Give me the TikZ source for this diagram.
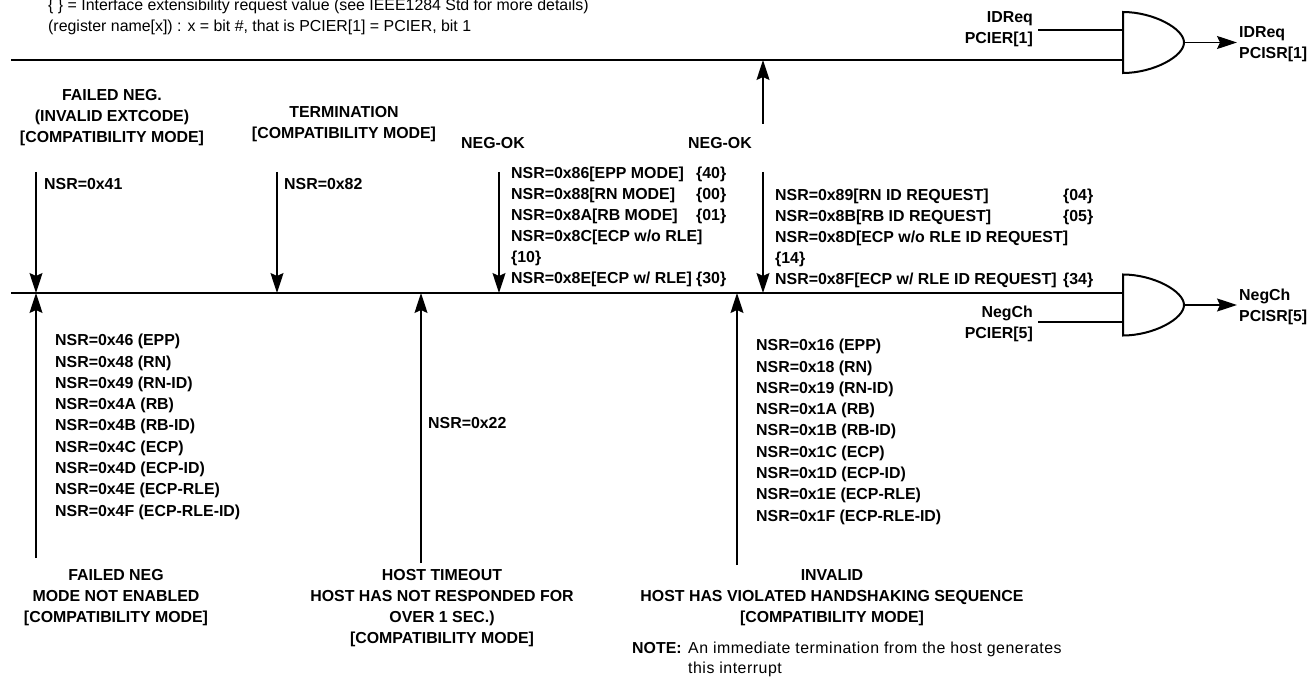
\documentclass[tikz,border=0pt]{standalone}
\usepackage{fontspec}
\setmainfont{Liberation Sans}
\usetikzlibrary{arrows.meta}
\usetikzlibrary{positioning}
\begin{document}
\begin{tikzpicture}[x=1pt,y=-1pt,
				busline/.style={line width=1.6pt},
				wire/.style={line width=1.3pt},
				sig/.style={line width=1.3pt,-{Stealth[length=20pt,width=13pt,inset=3pt]}},
				gatebody/.style={line width=2pt,line join=miter},
				lbl/.style={font=\fontsize{15.9}{21}\selectfont\bfseries,inner sep=0pt,align=left,anchor=north west},
				ctitle/.style={font=\fontsize{15.9}{21}\selectfont\bfseries,inner sep=0pt,align=center,anchor=north},
				rtitle/.style={font=\fontsize{15.9}{21}\selectfont\bfseries,inner sep=0pt,align=right,anchor=north east},
				plain/.style={font=\fontsize{15.9}{21}\selectfont,inner sep=0pt,align=left,anchor=north west}
				]
				\useasboundingbox (0,0) rectangle (1312,679);
				% header
				\node (legend) [plain] at (48,-1) {\{ \} = Interface extensibility request value (see IEEE1284 Std for more details)\\(register name[x]) : x = bit \#, that is PCIER[1] = PCIER, bit 1};
				% gates
				\coordinate (gatea) at (1123,42.5);
				\coordinate (gateb) at (1123,305);
				\coordinate (gateaout) at (1184,42.5);
				\coordinate (gatebout) at (1184,305);
				\foreach \g in {gatea,gateb}
					\draw[gatebody,shift={(\g)}] (0,-30.5) .. controls (30,-30.5) and (61,-14) .. (61,0) .. controls (61,14) and (30,30.5) .. (0,30.5) -- cycle;
				\coordinate (ina) at (1038,30);
				\coordinate (inb) at (1038,322);
				\coordinate (busa) at (11,60);
				\coordinate (busb) at (11,293);
				\coordinate (outa) at (1237,42.5);
				\coordinate (outb) at (1237,305);
				\draw[wire] (ina) -- (ina -| gatea);
				\draw[wire] (inb) -- (inb -| gateb);
				\draw[busline] (busa) -- (busa -| gatea);
				\draw[busline] (busb) -- (busb -| gateb);
				\draw[sig] (gateaout) -- (outa);
				\draw[sig] (gatebout) -- (outb);
				% gate labels
				\node (ida) [rtitle] at (1033,11) {IDReq\\PCIER[1]};
				\node (idb) [rtitle] at (1033,306) {NegCh\\PCIER[5]};
				\node (oa) [lbl] at (1239,26) {IDReq\\PCISR[1]};
				\node (ob) [lbl] at (1239,289) {NegCh\\PCISR[5]};
				% arrows into the lower line
				\coordinate (fa) at (36,172);
				\coordinate (fb) at (277,172);
				\coordinate (fc) at (499,172);
				\coordinate (fd) at (763,172);
				\foreach \t in {fa,fb,fc,fd}
					\draw[sig] (\t) -- (\t |- busb);
				% arrow up to the top line
				\coordinate (fe) at (763,124);
				\draw[sig] (fe) -- (fe |- busa);
				% arrows from below
				\coordinate (ga) at (36,558);
				\coordinate (gb) at (421,563);
				\coordinate (gc) at (737,565);
				\foreach \t in {ga,gb,gc}
					\draw[sig] (\t) -- (\t |- busb);
				% upper titles
				\node (failedneg) [ctitle] at (112,89) {FAILED NEG.\\(INVALID EXTCODE)\\{}[COMPATIBILITY MODE]};
				\node (termn) [ctitle] at (344,106.5) {TERMINATION\\{}[COMPATIBILITY MODE]};
				\node (oka) [lbl] at (461,137) {NEG-OK};
				\node (okb) [lbl] at (688,137) {NEG-OK};
				\node (nsra) [lbl] at (44,178) {NSR=0x41};
				\node (nsrb) [lbl] at (284,178) {NSR=0x82};
				\node (modes) [lbl] at (511,166.5) {\makebox[185pt][l]{NSR=0x86[EPP MODE]}\{40\}\\
					\makebox[185pt][l]{NSR=0x88[RN MODE]}\{00\}\\
					\makebox[185pt][l]{NSR=0x8A[RB MODE]}\{01\}\\
					NSR=0x8C[ECP w/o RLE]\\
					\{10\}\\
					\makebox[185pt][l]{NSR=0x8E[ECP w/ RLE]}\{30\}};
				\node (idmodes) [lbl] at (775,188.5) {\makebox[288pt][l]{NSR=0x89[RN ID REQUEST]}\{04\}\\
					\makebox[288pt][l]{NSR=0x8B[RB ID REQUEST]}\{05\}\\
					NSR=0x8D[ECP w/o RLE ID REQUEST]\\
					\{14\}\\
					\makebox[288pt][l]{NSR=0x8F[ECP w/ RLE ID REQUEST]}\{34\}};
				% lower lists
				\node (lista) [lbl,font=\fontsize{15.9}{21.3}\selectfont\bfseries] at (55,334) {NSR=0x46 (EPP)\\NSR=0x48 (RN)\\NSR=0x49 (RN-ID)\\NSR=0x4A (RB)\\NSR=0x4B (RB-ID)\\NSR=0x4C (ECP)\\NSR=0x4D (ECP-ID)\\NSR=0x4E (ECP-RLE)\\NSR=0x4F (ECP-RLE-ID)};
				\node (nsrc) [lbl] at (428,417) {NSR=0x22};
				\node (listb) [lbl,font=\fontsize{15.9}{21.3}\selectfont\bfseries] at (756,339) {NSR=0x16 (EPP)\\NSR=0x18 (RN)\\NSR=0x19 (RN-ID)\\NSR=0x1A (RB)\\NSR=0x1B (RB-ID)\\NSR=0x1C (ECP)\\NSR=0x1D (ECP-ID)\\NSR=0x1E (ECP-RLE)\\NSR=0x1F (ECP-RLE-ID)};
				% lower titles
				\node (failedb) [ctitle] at (116,569) {FAILED NEG\\MODE NOT ENABLED\\{}[COMPATIBILITY MODE]};
				\node (hostto) [ctitle] at (442,569) {HOST TIMEOUT\\HOST HAS NOT RESPONDED FOR\\OVER 1 SEC.)\\{}[COMPATIBILITY MODE]};
				\node (invalid) [ctitle] at (832,569) {INVALID\\HOST HAS VIOLATED HANDSHAKING SEQUENCE\\{}[COMPATIBILITY MODE]};
				\node (notehd) [lbl] at (632,642) {NOTE:};
				\node (note) [plain,font=\fontsize{15.9}{20}\selectfont\addfontfeature{LetterSpace=3.2}] at (688,642) {An immediate termination from the host generates\\this interrupt};
\end{tikzpicture}
\end{document}
